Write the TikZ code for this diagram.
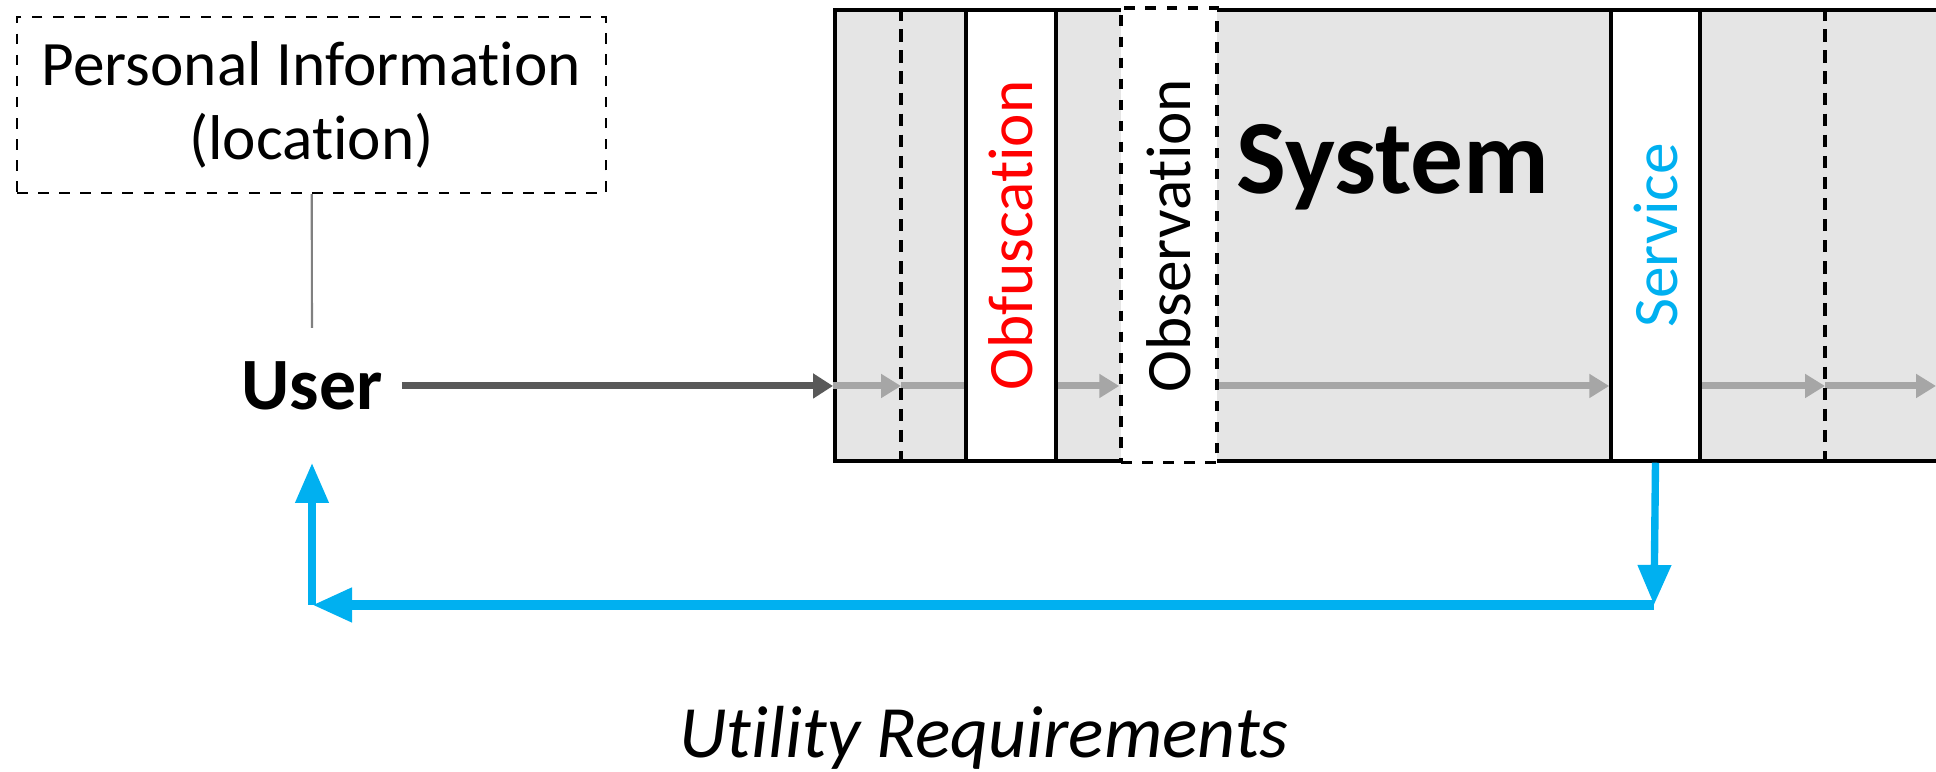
\documentclass[tikz,border=0pt]{standalone}
\usepackage{fontspec}
\setmainfont[RawFeature={-liga;-clig;-calt;-dlig;-ccmp}]{Carlito}
\usepackage{graphicx}
\usetikzlibrary{positioning,arrows.meta}
\definecolor{sysgray}{RGB}{229,229,229}
\definecolor{flowgray}{RGB}{166,166,166}
\definecolor{darkflow}{RGB}{89,89,89}
\definecolor{fbblue}{RGB}{0,176,240}

\begin{document}
\begin{tikzpicture}[stage/.style={draw,rectangle,fill=white,line width=1pt,minimum width=0.9cm,minimum height=4.51cm,inner sep=0pt,font=\fontsize{18}{21}\selectfont},flow/.style={draw=flowgray,line width=2pt,-{Triangle[length=0.2cm,width=0.23cm]}},feedback/.style={draw=fbblue,line width=2.1pt,-{Triangle[length=0.4cm,width=0.32cm]}},cut/.style={draw,line width=0.9pt,dash pattern=on 3.5pt off 2.5pt}]
  \useasboundingbox (0,0) rectangle (19.36,7.72);

  \node[draw,dashed,line width=0.6pt,minimum width=5.89cm,minimum height=1.76cm,align=center,font=\fontsize{18}{21}\selectfont] (info) at (3.115,6.67) {Personal Information\\(location)};
  \node[font=\fontsize{21}{25}\selectfont\bfseries] (user) at (3.12,3.86) {User};
  \coordinate (infoEnd) at (3.12,4.44);
  \draw[gray,line width=0.6pt] (info) -- (infoEnd);

  % the system, running off the right edge
  \node[draw,fill=sysgray,line width=1pt,anchor=west,minimum width=11.5cm,minimum height=4.51cm] (system) at (8.33,5.365) {};
  \node[font=\fontsize{30}{36}\selectfont\bfseries,anchor=base] (systitle) at (13.93,5.78) {System};

  \node[stage,text=red] (obf) at (10.11,5.365) {\rotatebox{90}{Obfuscation}};
  \node[stage,dashed,minimum width=0.96cm,minimum height=4.51cm+1pt] (obs) at (11.69,5.365) {\rotatebox{90}{Observation}};
  \node[stage,text=fbblue,minimum width=0.89cm] (service) at (16.555,5.365) {\rotatebox{90}{Service}};

  \coordinate (cut1) at (9.01,3.86);
  \coordinate (cut2) at (18.25,3.86);
  \coordinate (rim) at (19.36,3.86);

  \draw[darkflow,line width=2pt,shorten <=0.07cm,-{Triangle[length=0.2cm,width=0.24cm]}] (user) -- (system.west |- user);
  \draw[flow] (system.west |- cut1) -- (cut1);
  \draw[flow,-] (cut1) -- (obf.west |- cut1);
  \draw[flow] (obf.east |- cut1) -- (obs.west |- cut1);
  \draw[flow] (obs.east |- cut1) -- (service.west |- cut1);
  \draw[flow] (service.east |- cut1) -- (cut2);
  \draw[flow] (cut2) -- (rim);

  \foreach \c in {cut1,cut2}
    \draw[cut] (\c |- system.north) -- (\c |- system.south);

  % utility feedback loop
  \coordinate (fbRight) at (16.54,1.67);
  \coordinate (fbLeft) at (3.12,1.67);
  \coordinate (fbTip) at (3.12,3.09);
  \draw[feedback] (service.south) -- (fbRight);
  \draw[feedback,line width=3pt] (fbRight) -- (fbLeft);
  \draw[feedback] (fbLeft) -- (fbTip);

  \node[font=\fontsize{21}{25}\selectfont\itshape,anchor=base] (utility) at (9.84,0.14) {Utility Requirements};
\end{tikzpicture}
\end{document}
